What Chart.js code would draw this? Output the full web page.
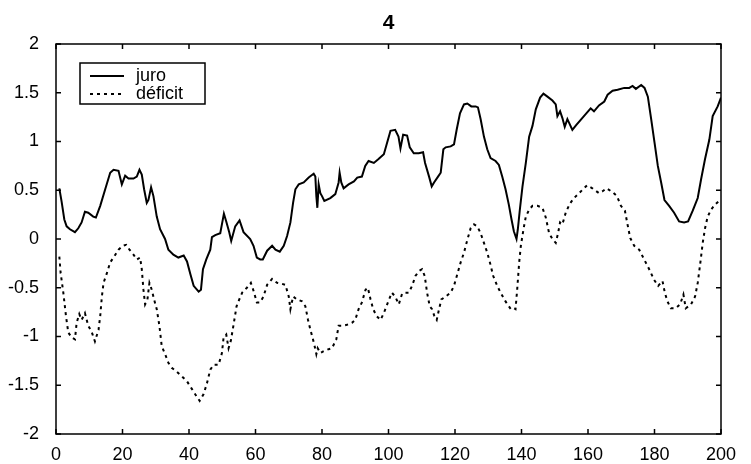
<!DOCTYPE html>
<html>
<head>
<meta charset="utf-8">
<script src="https://cdn.jsdelivr.net/npm/chart.js@4.4.0/dist/chart.umd.min.js"></script>
<style>
  html, body { margin: 0; padding: 0; background: #fff; }
  #wrap { width: 751px; height: 464px; }
</style>
</head>
<body>
<div id="wrap"><canvas id="chart" width="751" height="464"></canvas></div>
<script>
const titleText = "4"
const seriesNames = ["juro", "déficit"]

const juroX = [1,1.7,2.5,3.2,4.2,5.7,6.7,7.7,8.7,9.7,11.2,12,13.3,14.8,16.3,17.3,18.8,19.8,20.8,21.8,23.3,24.3,25.1,25.8,26.5,27.3,27.8,28.6,29.3,30.3,31.3,32.8,33.8,35.3,36.8,38.4,39.4,40.4,41.4,42.9,43.6,44.2,45.2,46.4,46.9,47.9,49.4,50.5,51.2,52.1,52.7,53.9,55.2,56.4,58.4,59.4,60.4,61.4,62.2,63.5,65,66,67.3,68.5,69.5,70.5,71.3,72,73,74.5,76,77.5,78,78.3,78.6,79,79.5,80,80.7,82.5,84,85,85.3,85.8,86.5,88,89.6,90.6,92,93,94,95.6,97,98.6,99.6,100.6,102,103,103.6,104.4,105.6,106.4,107.6,109.1,110.4,111,112.2,113,113.7,114.9,115.7,116.5,117.2,118.7,119.7,120.5,121.5,122.7,123.7,124.9,126.2,126.9,127.7,128.7,129.7,130.7,132.2,133.2,134.2,135.2,136.2,137,137.7,138.5,138.9,139.5,140.3,141.3,142.3,143.3,144.3,145.6,146.6,147.8,149.3,150.3,150.8,151.6,152.3,153,153.8,155.3,156.5,158,159.3,160.8,161.8,163.3,164.9,165.9,167.4,168.9,170.9,172.4,173.4,174.4,176,177,178,179,180,181,182,183,184.4,185.9,187.4,188.9,190.1,191.5,193,194,195.2,196.5,197.5,199,200]
const juroY = [0.52,0.38,0.2,0.13,0.1,0.07,0.11,0.17,0.28,0.27,0.23,0.22,0.34,0.51,0.68,0.71,0.7,0.56,0.65,0.62,0.62,0.64,0.71,0.66,0.51,0.37,0.4,0.53,0.44,0.23,0.1,0,-0.11,-0.16,-0.19,-0.17,-0.23,-0.36,-0.48,-0.54,-0.52,-0.31,-0.21,-0.11,0.02,0.04,0.06,0.26,0.18,0.07,-0.02,0.13,0.19,0.07,0,-0.07,-0.19,-0.21,-0.21,-0.12,-0.07,-0.11,-0.13,-0.07,0.03,0.17,0.37,0.51,0.56,0.58,0.63,0.67,0.64,0.44,0.32,0.56,0.47,0.44,0.39,0.42,0.46,0.58,0.68,0.58,0.52,0.56,0.59,0.63,0.64,0.75,0.8,0.78,0.82,0.87,0.99,1.11,1.12,1.05,0.93,1.07,1.06,0.94,0.88,0.88,0.89,0.78,0.64,0.54,0.58,0.64,0.68,0.92,0.94,0.95,0.97,1.12,1.29,1.38,1.39,1.36,1.36,1.35,1.23,1.05,0.92,0.83,0.8,0.76,0.64,0.51,0.35,0.2,0.08,0,0.1,0.3,0.54,0.78,1.05,1.16,1.33,1.45,1.49,1.46,1.42,1.38,1.26,1.31,1.24,1.15,1.23,1.12,1.17,1.23,1.28,1.34,1.31,1.37,1.41,1.48,1.52,1.53,1.55,1.55,1.57,1.54,1.58,1.55,1.46,1.23,0.99,0.75,0.58,0.4,0.34,0.27,0.18,0.17,0.18,0.29,0.42,0.61,0.82,1.02,1.26,1.36,1.45]

const deficitX = [1,1.4,2.2,3,3.7,4.7,5.7,6.2,7,7.7,8.7,9.7,10.7,11.7,12.8,13.3,13.8,14.3,15.3,16.3,17.5,18.8,20.1,21.1,22.1,23.3,24.3,25.3,25.8,26.3,26.8,27.5,28.1,28.8,29.5,30.3,31.1,31.8,32.8,33.8,34.8,36.3,37.9,39.4,40.9,42.2,43.2,44.4,45.4,46.4,47.4,48.9,49.9,50.4,51.2,51.9,52.6,53.4,54.3,55,56,57.4,58.6,59.4,60.4,61.4,62.4,63.5,65,66.5,68,69,70,70.5,71.3,72.5,74,75,75.8,76.5,77.3,78,78.3,78.7,79.5,80.5,82,83,84.3,85,86,87.5,89,90,91,92,93.1,93.8,94.6,95.4,96.4,97.6,98.6,99.6,101,102,103.1,104.1,105.1,106.1,107.1,108.1,109.1,110.1,110.9,111.6,112.4,113.1,113.8,114.5,115.2,115.9,117.2,118.7,119.7,120.7,121.7,122.7,123.7,124.7,125.7,126.7,127.7,128.7,129.7,130.5,131.5,132.7,133.7,135.2,136.8,137.7,138.2,138.7,139.3,139.8,140.6,141.3,142.3,143.3,144.8,146.3,147.3,148.3,149.3,150.3,151,151.6,152.3,153.3,154.5,155.8,157.3,158.8,159.7,161.3,163.3,164.4,165.6,167.4,168.7,169.9,171.1,172,172.7,173.9,175.4,176.9,178.4,179.9,181.1,182.4,183.1,183.9,184.9,186.4,187.7,188.7,189.4,191,192.2,193,193.8,194.5,195.2,196,197,198.1,199.4,200]
const deficitY = [-0.18,-0.35,-0.55,-0.79,-0.96,-1.01,-1.03,-0.86,-0.77,-0.83,-0.76,-0.89,-0.95,-1.05,-0.93,-0.79,-0.59,-0.45,-0.35,-0.24,-0.18,-0.11,-0.07,-0.06,-0.11,-0.16,-0.21,-0.19,-0.31,-0.52,-0.67,-0.62,-0.45,-0.52,-0.62,-0.72,-0.89,-1.1,-1.18,-1.27,-1.32,-1.36,-1.41,-1.46,-1.54,-1.61,-1.66,-1.59,-1.48,-1.34,-1.29,-1.29,-1.17,-1.01,-0.98,-1.12,-1.04,-0.88,-0.69,-0.63,-0.55,-0.5,-0.45,-0.53,-0.65,-0.65,-0.59,-0.47,-0.41,-0.45,-0.46,-0.47,-0.59,-0.72,-0.59,-0.62,-0.64,-0.69,-0.83,-0.93,-1.03,-1.13,-1.18,-1.12,-1.17,-1.15,-1.13,-1.12,-1.03,-0.89,-0.89,-0.88,-0.86,-0.83,-0.72,-0.65,-0.52,-0.5,-0.62,-0.72,-0.79,-0.83,-0.76,-0.67,-0.55,-0.59,-0.67,-0.56,-0.55,-0.55,-0.48,-0.38,-0.33,-0.31,-0.38,-0.55,-0.69,-0.72,-0.79,-0.83,-0.72,-0.62,-0.59,-0.55,-0.48,-0.36,-0.24,-0.14,-0.01,0.11,0.15,0.13,0.06,-0.04,-0.14,-0.24,-0.38,-0.48,-0.55,-0.64,-0.72,-0.71,-0.72,-0.52,-0.24,-0.07,0.1,0.23,0.3,0.34,0.34,0.32,0.22,0.06,0,-0.04,0.06,0.17,0.15,0.27,0.36,0.42,0.47,0.52,0.55,0.52,0.47,0.49,0.52,0.48,0.44,0.34,0.29,0.13,0.01,-0.07,-0.11,-0.21,-0.31,-0.42,-0.48,-0.43,-0.55,-0.64,-0.71,-0.71,-0.67,-0.57,-0.71,-0.67,-0.59,-0.45,-0.24,-0.04,0.11,0.23,0.3,0.35,0.39,0.4]

const xTicks = [0, 20, 40, 60, 80, 100, 120, 140, 160, 180, 200]
const yTicks = [-2, -1.5, -1, -0.5, 0, 0.5, 1, 1.5, 2]

const FONT = "'Liberation Sans', Arial, sans-serif"

function pairs(xs, ys) {
  return xs.map((x, i) => ({ x: x, y: ys[i] }))
}

// title, box, inward ticks and legend, matlab style
const matlabFrame = {
  id: "matlabFrame",
  afterDraw(chart) {
    const ctx = chart.ctx
    const a = chart.chartArea
    const xs = chart.scales.x
    const ys = chart.scales.y
    ctx.save()
    ctx.strokeStyle = "#000"
    ctx.fillStyle = "#000"
    ctx.lineWidth = 1.5
    ctx.strokeRect(a.left, a.top, a.right - a.left, a.bottom - a.top)

    const tl = 5
    ctx.beginPath()
    xTicks.forEach(v => {
      const p = xs.getPixelForValue(v)
      ctx.moveTo(p, a.bottom); ctx.lineTo(p, a.bottom - tl)
      ctx.moveTo(p, a.top); ctx.lineTo(p, a.top + tl)
    })
    yTicks.forEach(v => {
      const p = ys.getPixelForValue(v)
      ctx.moveTo(a.left, p); ctx.lineTo(a.left + tl, p)
      ctx.moveTo(a.right, p); ctx.lineTo(a.right - tl, p)
    })
    ctx.stroke()

    // title
    ctx.font = "bold 21px " + FONT
    ctx.textAlign = "center"
    ctx.textBaseline = "middle"
    ctx.fillText(titleText, (a.left + a.right) / 2, 23)

    // legend
    const lx = 80, ly = 63, lw = 125, lh = 41
    ctx.fillStyle = "#fff"
    ctx.fillRect(lx, ly, lw, lh)
    ctx.strokeStyle = "#000"
    ctx.lineWidth = 1.5
    ctx.strokeRect(lx, ly, lw, lh)
    chart.data.datasets.forEach((ds, i) => {
      const yy = ly + 13 + i * 18
      ctx.beginPath()
      ctx.lineWidth = ds.borderWidth
      ctx.setLineDash(ds.borderDash || [])
      ctx.moveTo(lx + 10, yy)
      ctx.lineTo(lx + 44, yy)
      ctx.stroke()
      ctx.setLineDash([])
      ctx.fillStyle = "#000"
      ctx.font = "18px " + FONT
      ctx.textAlign = "left"
      ctx.fillText(ds.label, lx + 56, yy)
    })
    ctx.restore()
  }
}

new Chart("chart", {
  type: "line",
  data: {
    datasets: [
      {
        label: seriesNames[0],
        data: pairs(juroX, juroY),
        borderColor: "#000",
        borderWidth: 2,
        pointRadius: 0,
        tension: 0,
        fill: false
      },
      {
        label: seriesNames[1],
        data: pairs(deficitX, deficitY),
        borderColor: "#000",
        borderWidth: 2,
        borderDash: [3, 4],
        pointRadius: 0,
        tension: 0,
        fill: false
      }
    ]
  },
  options: {
    responsive: false,
    animation: false,
    devicePixelRatio: 1,
    layout: {
      padding: { top: 44, right: 30, left: 0, bottom: 0 }
    },
    plugins: {
      legend: { display: false },
      title: { display: false },
      tooltip: { enabled: false }
    },
    scales: {
      x: {
        type: "linear",
        min: 0,
        max: 200,
        afterBuildTicks: (s) => { s.ticks = xTicks.map(v => ({ value: v })) },
        afterFit: (s) => { s.height = 30 },
        grid: { display: false },
        border: { display: false },
        ticks: {
          color: "#000",
          padding: 2,
          maxRotation: 0,
          font: { family: FONT, size: 18 },
          callback: (v) => String(v)
        }
      },
      y: {
        min: -2,
        max: 2,
        afterBuildTicks: (s) => { s.ticks = yTicks.map(v => ({ value: v })) },
        afterFit: (s) => { s.width = 56 },
        grid: { display: false },
        border: { display: false },
        ticks: {
          color: "#000",
          padding: 9,
          font: { family: FONT, size: 18 },
          callback: (v) => String(v)
        }
      }
    }
  },
  plugins: [matlabFrame]
})
</script>
</body>
</html>
